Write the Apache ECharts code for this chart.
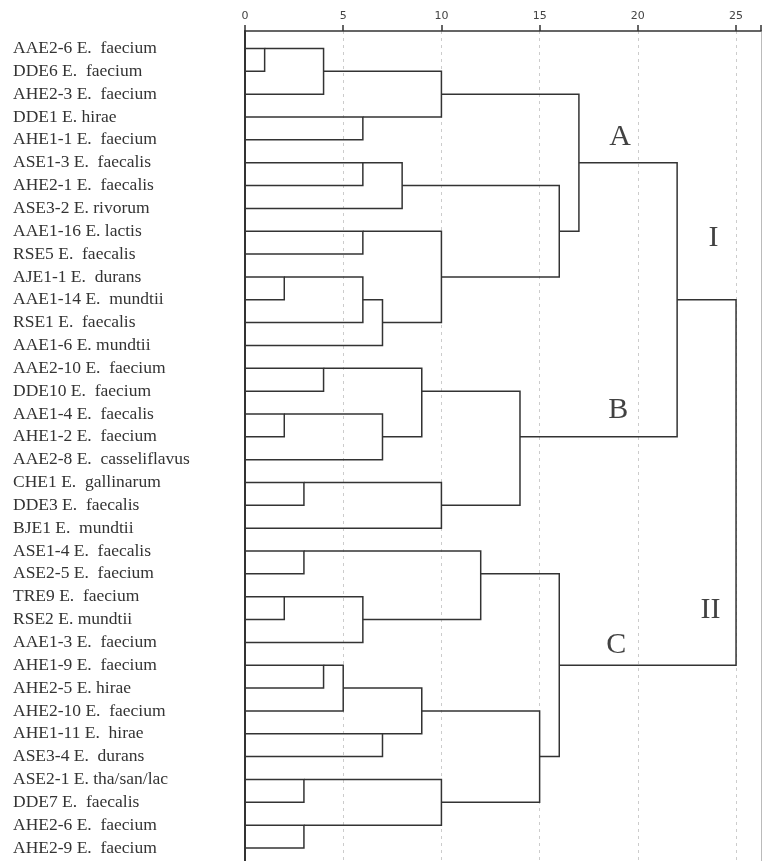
<!DOCTYPE html>
<html>
<head>
<meta charset="utf-8">
<script src="https://cdn.jsdelivr.net/npm/echarts@6/dist/echarts.min.js"></script>
<style>
  html, body { margin: 0; padding: 0; background: #fff; }
  #chart { width: 762px; height: 861px; }
</style>
</head>
<body>
<div id="chart"></div>
<script>
// leaves, top to bottom
const leaves = [
  'AAE2-6 E.  faecium', 'DDE6 E.  faecium', 'AHE2-3 E.  faecium', 'DDE1 E. hirae',
  'AHE1-1 E.  faecium', 'ASE1-3 E.  faecalis', 'AHE2-1 E.  faecalis', 'ASE3-2 E. rivorum',
  'AAE1-16 E. lactis', 'RSE5 E.  faecalis', 'AJE1-1 E.  durans', 'AAE1-14 E.  mundtii',
  'RSE1 E.  faecalis', 'AAE1-6 E. mundtii', 'AAE2-10 E.  faecium', 'DDE10 E.  faecium',
  'AAE1-4 E.  faecalis', 'AHE1-2 E.  faecium', 'AAE2-8 E.  casseliflavus', 'CHE1 E.  gallinarum',
  'DDE3 E.  faecalis', 'BJE1 E.  mundtii', 'ASE1-4 E.  faecalis', 'ASE2-5 E.  faecium',
  'TRE9 E.  faecium', 'RSE2 E. mundtii', 'AAE1-3 E.  faecium', 'AHE1-9 E.  faecium',
  'AHE2-5 E. hirae', 'AHE2-10 E.  faecium', 'AHE1-11 E.  hirae', 'ASE3-4 E.  durans',
  'ASE2-1 E. tha/san/lac', 'DDE7 E.  faecalis', 'AHE2-6 E.  faecium', 'AHE2-9 E.  faecium'
];

// merges: [childA, childB, rescaled distance]; ids >= 36 are earlier merges (36 + index)
const mergeA = [0, 36, 3, 37, 5, 40, 8, 10, 43, 44, 42, 41, 39, 14, 16, 50, 49, 19, 53, 52, 48,
                22, 24, 58, 57, 27, 61, 30, 62, 32, 34, 65, 64, 60, 56];
const mergeB = [1, 2, 4, 38, 6, 7, 9, 11, 12, 13, 45, 46, 47, 15, 17, 18, 51, 20, 21, 54, 55,
                23, 25, 26, 59, 28, 29, 31, 63, 33, 35, 66, 67, 68, 69];
const mergeH = [1, 4, 6, 10, 6, 8, 6, 2, 6, 7, 10, 16, 17, 4, 2, 7, 9, 3, 10, 14, 22,
                3, 2, 6, 12, 4, 5, 7, 9, 3, 3, 10, 15, 16, 25];

const groupNames = ['A', 'B', 'C', 'I', 'II'];
const groupX = [19.1, 19.0, 18.9, 23.85, 23.7];
const groupY = [3.9, 15.85, 26.1, 8.3, 24.6];

const xTicks = [0, 5, 10, 15, 20, 25];

// node positions: height and row
const nodeH = leaves.map(() => 0);
const nodeY = leaves.map((_, i) => i);
const segs = [];
mergeH.forEach((h, k) => {
  const a = mergeA[k], b = mergeB[k];
  const ya = nodeY[a], yb = nodeY[b];
  segs.push({ coords: [[nodeH[a], ya], [h, ya], [h, yb], [nodeH[b], yb]] });
  nodeH.push(h);
  nodeY.push(Math.floor((ya + yb) / 2));
});

const chart = echarts.init(document.getElementById('chart'));
chart.setOption({
  backgroundColor: '#fff',
  animation: false,
  grid: { left: 245, right: 1, top: 31, bottom: 0 },
  xAxis: {
    type: 'value',
    position: 'top',
    min: 0,
    max: 26.27,
    interval: 5,
    axisLine: { onZero: false, lineStyle: { color: '#333', width: 1.5 } },
    axisTick: { length: 6, lineStyle: { color: '#333', width: 1.5 } },
    axisLabel: {
      margin: 9, fontSize: 11, color: '#444', fontFamily: 'DejaVu Sans',
      customValues: xTicks
    },
    splitLine: { show: true, lineStyle: { color: '#ccc', type: [3, 4], width: 1 } }
  },
  yAxis: [{
    type: 'value',
    inverse: true,
    min: -0.766,
    max: 35.57,
    axisLine: { show: true, onZero: false, lineStyle: { color: '#333', width: 2 } },
    axisTick: { show: false },
    splitLine: { show: false },
    axisLabel: {
      customValues: leaves.map((_, i) => i),
      formatter: v => leaves[v] || '',
      align: 'left',
      margin: 232,
      fontFamily: 'Liberation Serif',
      fontSize: 17.5,
      color: '#333'
    }
  }, {
    type: 'value',
    position: 'right',
    min: 0, max: 1,
    axisLine: { show: true, onZero: false, lineStyle: { color: '#bbb', width: 1 } },
    axisTick: { show: false },
    axisLabel: { show: false },
    splitLine: { show: false }
  }],
  series: [{
    type: 'lines',
    coordinateSystem: 'cartesian2d',
    polyline: true,
    silent: true,
    lineStyle: { color: '#333', width: 1.5, opacity: 1 },
    data: segs
  }, {
    type: 'scatter',
    symbolSize: 0,
    silent: true,
    label: {
      show: true,
      position: 'inside',
      formatter: p => p.name,
      fontFamily: 'Liberation Serif',
      fontSize: 30,
      color: '#111'
    },
    data: groupNames.map((n, i) => ({ name: n, value: [groupX[i], groupY[i]] }))
  }]
});
</script>
</body>
</html>
